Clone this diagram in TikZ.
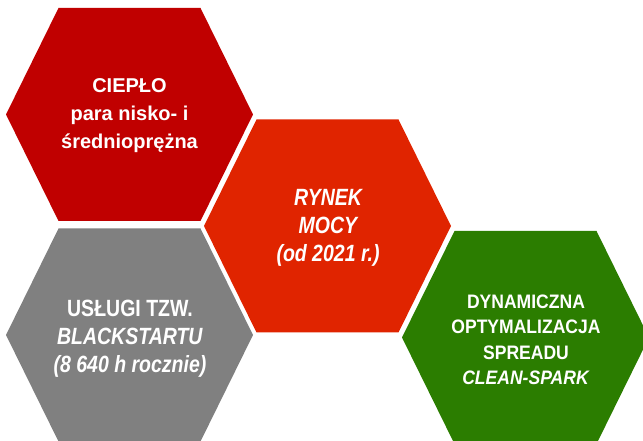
\documentclass[tikz,border=0pt]{standalone}
\usepackage{fontspec}
\setmainfont{Liberation Sans}
\newfontfamily\condfont{Liberation Sans}[FakeStretch=0.83]
\newfontfamily\narrowfont{Liberation Sans}[FakeStretch=0.9]
\begin{document}
\begin{tikzpicture}[x=1pt,y=1pt,
    hexlabel/.style={text=white,align=center,font=\bfseries\fontsize{20}{28}\selectfont},
    condlabel/.style={hexlabel,font=\condfont\bfseries\fontsize{23.5}{28}\selectfont},
    smalllabel/.style={hexlabel,font=\narrowfont\bfseries\fontsize{19.5}{25.5}\selectfont}]
    % Define colors
    \definecolor{cieplo}{RGB}{192,0,0}
    \definecolor{rynek}{RGB}{224,36,0}
    \definecolor{blackstart}{RGB}{128,128,128}
    \definecolor{spark}{RGB}{43,125,0}

    \clip (0,0) rectangle (643,441);

    % Hexagons (centre x / centre y / colour)
    \foreach \cx/\cy/\col in {129.5/326.5/cieplo, 327.5/215/rynek, 129.5/106/blackstart, 525.5/103.5/spark}
        \fill[\col] ({\cx-123.5},\cy) -- ({\cx-71},{\cy+106.5}) -- ({\cx+71},{\cy+106.5})
            -- ({\cx+123.5},\cy) -- ({\cx+71},{\cy-106.5}) -- ({\cx-71},{\cy-106.5}) -- cycle;

    % Labels
    \node[hexlabel] (cieplotxt) at (129.5,325) {CIEPŁO\\para nisko- i\\średnioprężna};
    \node[condlabel,font=\condfont\bfseries\itshape\fontsize{23.5}{28}\selectfont] (rynektxt) at (328,213) {RYNEK\\MOCY\\(od 2021 r.)};
    \node[condlabel] (blackstarttxt) at (130,102) {USŁUGI TZW.\\\textit{BLACKSTARTU}\\\textit{(8 640 h rocznie)}};
    \node[smalllabel] (sparktxt) at (526,101) {DYNAMICZNA\\OPTYMALIZACJA\\SPREADU\\\textit{CLEAN-SPARK}};

\end{tikzpicture}
\end{document}
